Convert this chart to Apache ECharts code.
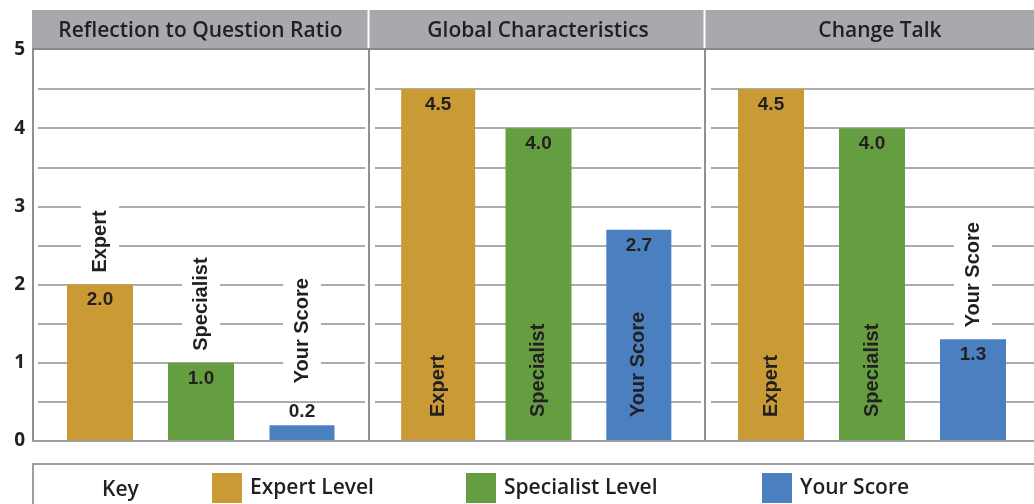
<!DOCTYPE html>
<html>
<head>
<meta charset="utf-8">
<script src="https://cdn.jsdelivr.net/npm/echarts@6/dist/echarts.min.js"></script>
<style>
html,body{margin:0;padding:0;background:#fff;}
#chart{width:1034px;height:504px;}
</style>
</head>
<body>
<div id="chart"></div>
<script>
// ---- data ----
const panelTitles = ['Reflection to Question Ratio', 'Global Characteristics', 'Change Talk'];
const categories = ['Expert', 'Specialist', 'Your Score'];
const levelNames = ['Expert Level', 'Specialist Level', 'Your Score'];
const expertValues = [2.0, 4.5, 4.5];
const specialistValues = [1.0, 4.0, 4.0];
const yourScoreValues = [0.2, 2.7, 1.3];
const keyLabel = 'Key';

// ---- layout / style ----
const valuesByLevel = [expertValues, specialistValues, yourScoreValues];
const colors = ['#CA9A34', '#659E41', '#4A7FC0'];
const panelEdges = [33, 369, 705];
const panelCenters = [200.5, 538, 880];
const frameGrids = [[38, 327], [375, 326], [711, 330]];
const barGrids = [[49.5, 303], [388, 301], [720.5, 303]];
const barWidths = [[66, 66, 65], [74, 66, 65], [66, 66, 66]];
const legendLefts = [212, 466, 762];
const TOP = 50, BOTTOM = 504 - 441;
const TXT = '#231f20';

const grid = [], xAxis = [], yAxis = [], series = [];
for (let p = 0; p < 3; p++) {
  grid.push({left: frameGrids[p][0], width: frameGrids[p][1], top: TOP, bottom: BOTTOM});
  xAxis.push({gridIndex: p, type: 'category', data: categories, show: false});
  yAxis.push({
    gridIndex: p, type: 'value', min: 0, max: 5, interval: 1,
    axisLine: {show: false}, axisTick: {show: false},
    axisLabel: {show: p === 0, margin: 13, fontFamily: 'Open Sans', fontWeight: 'bold', fontSize: 19, color: TXT},
    splitLine: {show: true, showMinLine: false, showMaxLine: false, lineStyle: {color: '#ABACAF', width: 2}},
    minorTick: {show: false, splitNumber: 2},
    minorSplitLine: {show: true, lineStyle: {color: '#ABACAF', width: 2}}
  });
}
for (let p = 0; p < 3; p++) {
  grid.push({left: barGrids[p][0], width: barGrids[p][1], top: TOP, bottom: BOTTOM});
  yAxis.push({gridIndex: 3 + p, type: 'value', min: 0, max: 5, show: false, splitLine: {show: false}});
}
for (let p = 0; p < 3; p++) {
  for (let l = 0; l < 3; l++) {
    const xi = xAxis.length;
    xAxis.push({gridIndex: 3 + p, type: 'category', data: categories, show: false});
    const v = valuesByLevel[l][p];
    const data = categories.map((c, i) => i === l ? v : '-');
    const bw = barWidths[p][l];
    series.push({
      name: levelNames[l], type: 'bar', xAxisIndex: xi, yAxisIndex: 3 + p,
      barWidth: bw, barGap: '-100%', data: data, z: 2,
      itemStyle: {color: colors[l]},
      label: {
        show: true, position: v < 0.5 ? 'top' : 'insideTop', distance: v < 0.5 ? 4 : 6,
        formatter: (d) => Number(d.value).toFixed(1),
        fontFamily: 'Liberation Sans', fontWeight: 'bold', fontSize: 19, color: TXT
      }
    });
    const inside = v >= 2.5;
    series.push({
      name: levelNames[l] + ' name', type: 'bar', xAxisIndex: xi, yAxisIndex: 3 + p,
      barWidth: bw, barGap: '-100%', data: data, z: 3, silent: true,
      itemStyle: {color: 'rgba(0,0,0,0)'},
      label: inside ? {
        show: true, position: 'insideBottom', distance: 24, rotate: 90,
        align: 'left', verticalAlign: 'middle', formatter: categories[l],
        fontFamily: 'Liberation Sans', fontWeight: 'bold', fontSize: 20, color: TXT
      } : {
        show: true, position: 'top', distance: v < 0.5 ? 36 : 6, rotate: 90,
        align: 'left', verticalAlign: 'middle', formatter: categories[l],
        backgroundColor: '#fff', padding: [9, 6, 9, 6],
        fontFamily: 'Liberation Sans', fontWeight: 'bold', fontSize: 20, color: TXT
      }
    });
  }
}

const graphic = [];
const LINE = '#8E9093';
graphic.push({type: 'rect', z: 100, shape: {x: 32, y: 10, width: 1002, height: 38}, style: {fill: '#A7A9AC'}});
graphic.push({type: 'rect', z: 101, shape: {x: 32, y: 48, width: 1002, height: 2}, style: {fill: '#86888B'}});
[367.5, 703.5].forEach(x => graphic.push({type: 'rect', z: 101, shape: {x: x, y: 10, width: 2, height: 38}, style: {fill: '#fff'}}));
panelEdges.forEach(x => graphic.push({type: 'rect', z: 100, shape: {x: x - 1, y: 50, width: 2, height: 392}, style: {fill: LINE}}));
graphic.push({type: 'rect', z: 100, shape: {x: 32, y: 440, width: 1002, height: 2}, style: {fill: '#9C9EA1'}});
panelTitles.forEach((t, i) => graphic.push({
  type: 'text', z: 102, x: panelCenters[i], y: 31,
  style: {text: t, x: 0, y: 0, align: 'center', verticalAlign: 'middle', fill: TXT,
    font: '600 21px "Open Sans"'}
}));
graphic.push({type: 'rect', z: 100, shape: {x: 32, y: 463, width: 1002, height: 2}, style: {fill: '#9C9EA1'}});
graphic.push({type: 'rect', z: 100, shape: {x: 32, y: 463, width: 2, height: 41}, style: {fill: '#9C9EA1'}});
graphic.push({type: 'text', z: 102, x: 102, y: 490,
  style: {text: keyLabel, x: 0, y: 0, align: 'left', verticalAlign: 'middle', fill: TXT, font: '600 21px "Open Sans"'}});

const legend = levelNames.map((n, i) => ({
  data: [n], left: legendLefts[i], top: 473, padding: 0,
  itemWidth: 30, itemHeight: 30, icon: 'rect', selectedMode: false,
  textStyle: {fontFamily: 'Open Sans', fontSize: 21, fontWeight: 600, color: TXT, padding: [3, 0, 0, 3]}
}));

const chart = echarts.init(document.getElementById('chart'), null, {renderer: 'canvas'});
chart.setOption({
  animation: false,
  backgroundColor: '#fff',
  grid, xAxis, yAxis, series, legend, graphic
});
</script>
</body>
</html>
